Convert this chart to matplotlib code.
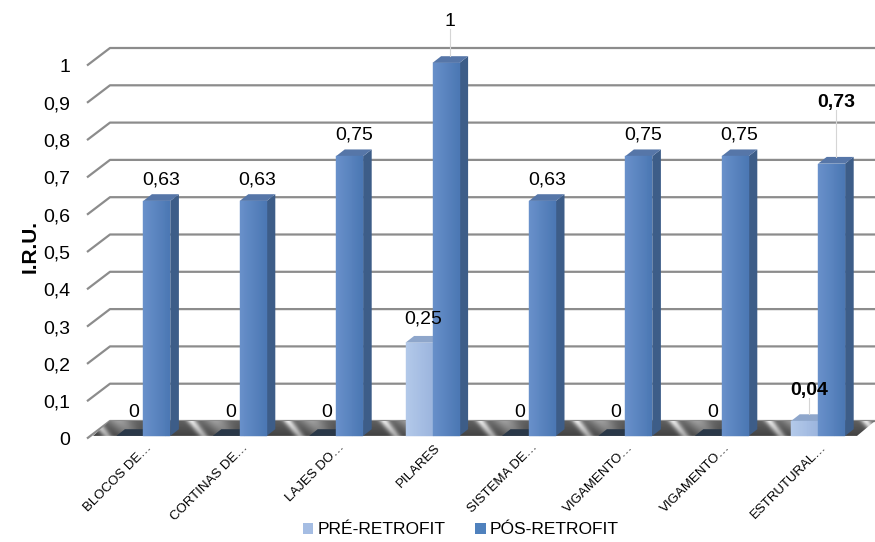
import numpy as np
import matplotlib
matplotlib.use("Agg")
import matplotlib.pyplot as plt
from matplotlib.patches import Polygon, Patch
from matplotlib.colors import to_rgb
import matplotlib.transforms as mtransforms

plt.rcParams['font.family'] = ['Liberation Sans', 'DejaVu Sans']

# ---------------- data ----------------
categories = ['BLOCOS DE…', 'CORTINAS DE…', 'LAJES DO…', 'PILARES',
              'SISTEMA DE…', 'VIGAMENTO…', 'VIGAMENTO…', 'ESTRUTURAL…']
pre_values = [0, 0, 0, 0.25, 0, 0, 0, 0.04]
pos_values = [0.63, 0.63, 0.75, 1, 0.63, 0.75, 0.75, 0.73]
series_names = ['PRÉ-RETROFIT', 'PÓS-RETROFIT']
y_ticks = [0, 0.1, 0.2, 0.3, 0.4, 0.5, 0.6, 0.7, 0.8, 0.9, 1.0]
y_tick_labels = ['0', '0,1', '0,2', '0,3', '0,4', '0,5', '0,6', '0,7', '0,8', '0,9', '1']
y_title = 'I.R.U.'

# ---------------- style / layout ----------------
W, H = 875, 542
PXX, PXY = 96.4, 373.0          # pixels per category unit / per value unit
Y0 = 438.5                      # pixel row of value 0 on the front plane
def hx(px): return px / PXX
def hy(px): return px / PXY

fig = plt.figure(figsize=(W / 100, H / 100), dpi=100)
ax = fig.add_axes([87 / W, 1 - 440 / H, (W - 87) / W, 440 / H])
x_left, x_right = (87 - 143.3) / PXX, (W - 143.3) / PXX
ax.set_xlim(x_left, x_right)
ax.set_ylim((Y0 - 440) / PXY, Y0 / PXY)
for s in ax.spines.values():
    s.set_visible(False)
ax.patch.set_visible(False)

WX, WY = hx(23), hy(17.5)    # back wall depth
BW = hx(27)                  # bar width
BY0 = hy(2.6)                # bars sit slightly behind front plane
DX, DY = hx(8.6), hy(6.7)    # bar depth

# gridlines on wall
for v in y_ticks:
    ax.plot([x_left, x_left + WX, x_right], [v, v + WY, v + WY],
            color='#8c8c8c', lw=1.6, zorder=1, clip_on=False,
            solid_capstyle='butt')

# floor with metallic pattern
floor_pts = [(x_left + hx(6), BY0), (x_left + WX, WY), (x_right, WY), (x_right - hx(18), BY0)]
floor = Polygon(floor_pts, closed=True, facecolor='none', edgecolor='none', zorder=2)
ax.add_patch(floor)
nx, ny = 900, 20
xs = np.linspace(x_left, x_right, nx)
ys = np.linspace(BY0, WY, ny)
XX, YY = np.meshgrid(xs, ys)
t = (YY - BY0) / (WY - BY0)
phase = (XX - 0.62 + t * 0.12) % 1.0
pattern = 0.38 + 0.55 * np.exp(-((phase - 0.0) / 0.05) ** 2) \
    + 0.55 * np.exp(-((phase - 1.0) / 0.05) ** 2) \
    + 0.25 * np.exp(-((phase - 0.25) / 0.12) ** 2)
pattern = pattern * (0.72 + 0.3 * t)
im = ax.imshow(pattern, extent=[x_left, x_right, BY0, WY], origin='lower',
               cmap='gray', vmin=0, vmax=1.05, aspect='auto', zorder=2,
               interpolation='bilinear')
im.set_clip_path(floor)

colors = {
    'pre': dict(front=('#b3c9ea', '#9db6de'), side='#7e96bb', top='#8ea6cb', zero='#2a3848'),
    'pos': dict(front=('#6890ca', '#4c78b4'), side='#3d5d88', top='#5676a8', zero='#2a3848'),
}

def draw_bar(x0, v, c, z):
    x1 = x0 + BW
    b = BY0
    if v <= 0:
        ax.add_patch(Polygon([(x0, b), (x1, b), (x1 + DX, b + DY), (x0 + DX, b + DY)],
                             closed=True, facecolor=c['zero'], edgecolor='none', zorder=z))
        return
    ax.add_patch(Polygon([(x1, b), (x1 + DX, b + DY), (x1 + DX, b + v + DY), (x1, b + v)],
                         closed=True, facecolor=c['side'], edgecolor='none', zorder=z))
    ax.add_patch(Polygon([(x0, b + v), (x1, b + v), (x1 + DX, b + v + DY), (x0 + DX, b + v + DY)],
                         closed=True, facecolor=c['top'], edgecolor='none', zorder=z))
    ca, cb = np.array(to_rgb(c['front'][0])), np.array(to_rgb(c['front'][1]))
    n = 14
    edges = np.linspace(x0, x1, n + 1)
    for k in range(n):
        col = ca + (cb - ca) * (k / (n - 1))
        ax.add_patch(Polygon([(edges[k], b), (edges[k + 1], b), (edges[k + 1], b + v), (edges[k], b + v)],
                             closed=True, facecolor=col, edgecolor=col, lw=0.3, zorder=z + 0.1))

# label offsets (pixels above bar's back top edge) and boldness
pre_label_off = [12, 12, 12, 12, 12, 12, 12, 19]
pos_label_off = [10, 10, 10, 30, 10, 10, 10, 50]
bold_cat = [False] * 7 + [True]

for i in range(len(categories)):
    z = 3 + i * 0.5
    draw_bar(i - BW, pre_values[i], colors['pre'], z)
    draw_bar(i, pos_values[i], colors['pos'], z + 0.2)

def vlabel(xc, v, off, bold, leader):
    txt = ('%g' % v).replace('.', ',')
    ytop = BY0 + v + DY
    ax.text(xc, ytop + hy(off), txt, ha='center', va='baseline', fontsize=14,
            fontweight='bold' if bold else 'normal', color='black', zorder=10)
    if leader:
        ax.plot([xc, xc], [ytop + hy(off) - hy(3), ytop], color='#d5d5d5', lw=0.8, zorder=9)

for i in range(len(categories)):
    vlabel(i - BW / 2 + DX / 2, pre_values[i], pre_label_off[i], bold_cat[i], pre_label_off[i] > 15)
    vlabel(i + BW / 2 + DX / 2, pos_values[i], pos_label_off[i], bold_cat[i], pos_label_off[i] > 15)

# axes ticks
ax.set_yticks(y_ticks)
ax.set_yticklabels(y_tick_labels, fontsize=14)
ax.tick_params(axis='y', length=0, pad=12)
ax.set_xticks(range(len(categories)))
ax.set_xticklabels(categories, fontsize=9.5, rotation=45, ha='right',
                   rotation_mode='anchor')
ax.tick_params(axis='x', length=0, pad=1)
shift = mtransforms.ScaledTranslation(2 / 100, 0, fig.dpi_scale_trans)
for lab in ax.get_xticklabels():
    lab.set_transform(lab.get_transform() + shift)

fig.text(30 / W, 1 - 247 / H, y_title, rotation=90, fontsize=15, fontweight='bold',
         ha='center', va='center')

handles = [Patch(facecolor='#a5bde3', edgecolor='none'),
           Patch(facecolor='#4f81bd', edgecolor='none')]
fig.legend(handles, series_names, loc='center', bbox_to_anchor=(461 / W, 1 - 530 / H),
           ncol=2, frameon=False, fontsize=12.5, handlelength=0.6, handleheight=0.6,
           handletextpad=0.25, columnspacing=1.7)

fig.savefig('out.png', dpi=100)
